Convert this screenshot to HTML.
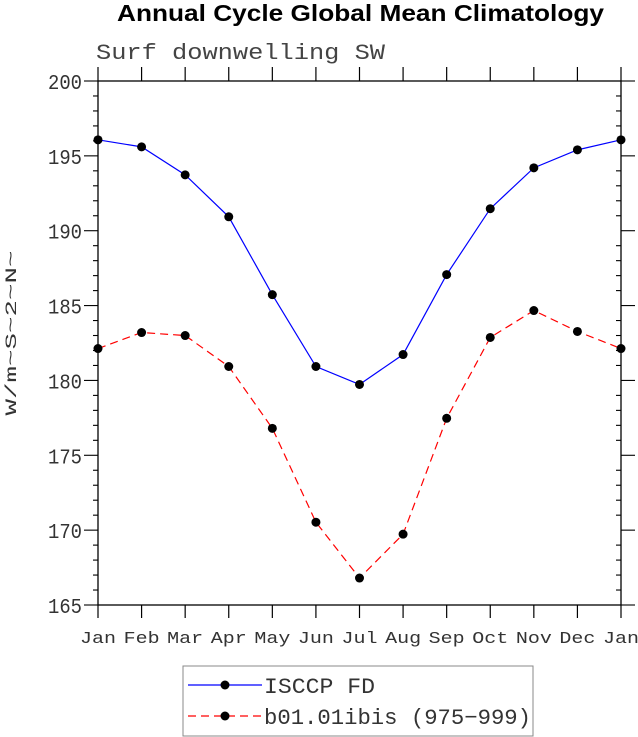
<!DOCTYPE html>
<html><head><meta charset="utf-8"><style>
body{margin:0;background:#fff}
svg{display:block}
text{font-family:"Liberation Mono",monospace;fill:#333}
</style></head><body>
<svg width="638" height="737" viewBox="0 0 638 737">
<text x="117" y="21" textLength="487" lengthAdjust="spacingAndGlyphs" style="font-family:'Liberation Sans',sans-serif;font-weight:bold;font-size:23px;fill:#000">Annual Cycle Global Mean Climatology</text>
<text x="96" y="59" textLength="289" lengthAdjust="spacingAndGlyphs" style="font-size:22px;fill:#444">Surf downwelling SW</text>
<text transform="translate(16,333) rotate(-90)" text-anchor="middle" textLength="165" lengthAdjust="spacingAndGlyphs" style="font-size:16px">W/m~S~2~N~</text>
<rect x="98" y="81" width="523" height="524" fill="none" stroke="#000" stroke-width="1.3"/>
<g id="axes"></g>
<g id="series"></g>
<g>
<rect x="183" y="666" width="350" height="70" fill="#fff" stroke="#888" stroke-width="1"/>
<g>
<line x1="188" y1="685" x2="262" y2="685" stroke="#00f" stroke-width="1.2"/>
<circle cx="225" cy="685" r="4.5" fill="#000"/>
<text x="264" y="693" textLength="111" lengthAdjust="spacingAndGlyphs" style="font-size:22px">ISCCP FD</text></g>
<g>
<line x1="188" y1="716" x2="262" y2="716" stroke="#f00" stroke-width="1.2" stroke-dasharray="8,5"/>
<circle cx="225" cy="716" r="4.5" fill="#000"/>
<text x="264" y="724" textLength="267" lengthAdjust="spacingAndGlyphs" style="font-size:22px">b01.01ibis (975−999)</text></g>
</g>
</svg>
<script>
const months=["Jan","Feb","Mar","Apr","May","Jun","Jul","Aug","Sep","Oct","Nov","Dec","Jan"];
const yTicks=[165,170,175,180,185,190,195,200];
const isccp=[196.07,195.6,193.73,190.93,185.73,180.93,179.73,181.73,187.07,191.47,194.2,195.4,196.07];
const model=[182.13,183.2,183,180.93,176.8,170.53,166.8,169.73,177.47,182.87,184.67,183.27,182.13];
const NS="http://www.w3.org/2000/svg";
const X0=98,X1=621,Y0=605,Y1=81,YMIN=165,YMAX=200;
function xs(i){return X0+(X1-X0)*i/(months.length-1);}
function ys(v){return Y0-(v-YMIN)/(YMAX-YMIN)*(Y0-Y1);}
function mk(tag,attrs,parent){const e=document.createElementNS(NS,tag);for(const k in attrs)e.setAttribute(k,attrs[k]);parent.appendChild(e);return e;}
const ax=document.getElementById('axes');
months.forEach((m,i)=>{
  const x=xs(i);
  const t=mk('line',{x1:x,y1:Y0,x2:x,y2:Y0+13,stroke:'#000','stroke-width':1.2},ax);
  
  
  const t2=mk('line',{x1:x,y1:Y1,x2:x,y2:Y1-14,stroke:'#000','stroke-width':1.2},ax);
  
  
  const l=mk('text',{x:x-18,y:643,textLength:36,lengthAdjust:'spacingAndGlyphs','font-size':'17px'},ax);
  l.textContent=m;
  
  
});
for(let v=YMIN;v<=YMAX;v++){
  const y=ys(v),maj=(v%5===0);
  mk('line',{x1:X0,y1:y,x2:X0-(maj?14:5),y2:y,stroke:'#000','stroke-width':1.1},ax);
  mk('line',{x1:X1,y1:y,x2:maj?X1+14:X1-5,y2:y,stroke:'#000','stroke-width':1.1},ax);
}
yTicks.forEach(v=>{
  const l=mk('text',{x:48,y:ys(v)+8,textLength:34,lengthAdjust:'spacingAndGlyphs','font-size':'21px'},ax);
  l.textContent=v;
  
  
});
const sg=document.getElementById('series');
function draw(vals,color,dash,name){
  const p=mk('polyline',{points:vals.map((v,i)=>xs(i)+','+ys(v)).join(' '),fill:'none',stroke:color,'stroke-width':1.2},sg);
  if(dash)p.setAttribute('stroke-dasharray',dash);
  
  
  vals.forEach((v,i)=>{
    const c=mk('circle',{cx:xs(i),cy:ys(v),r:4.5,fill:'#000'},sg);
    
    
  });
}
draw(isccp,'#00f',null,'isccp');
draw(model,'#f00','8,5','model');
</script>
</body></html>
